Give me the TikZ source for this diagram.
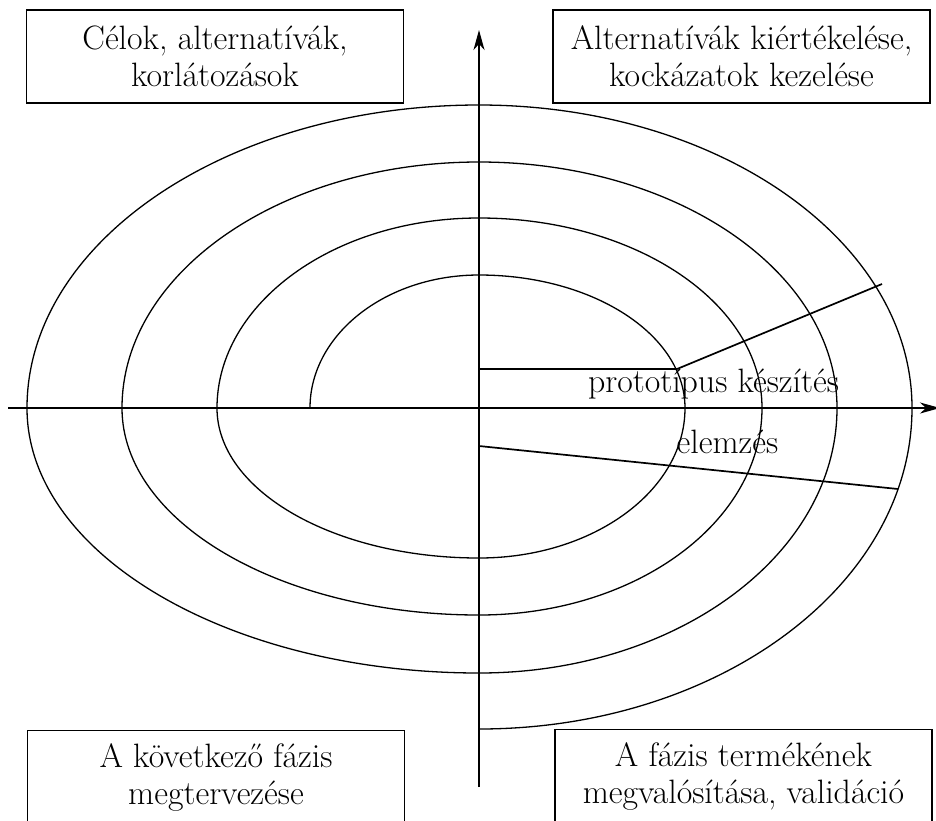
\documentclass[tikz,border=0pt]{standalone}
\usepackage{fontspec}
\usetikzlibrary{arrows.meta}
\begin{document}
\begin{tikzpicture}[x=1pt,y=-1pt,
  every path/.style={line width=1.3pt},
  phasebox/.style={draw, line width=1.3pt, minimum width=377pt, minimum height=93pt,
    align=center, inner sep=0pt, font=\fontsize{33.8}{37}\selectfont},
  lbl/.style={anchor=base, inner sep=0pt, font=\fontsize{33.8}{37}\selectfont},
  sector/.style={line width=1.7pt},
  axis/.style={line width=1.3pt, -{Stealth[length=20pt,width=11pt,inset=6pt]}}]
\useasboundingbox (0,0) rectangle (936,820);

% axes
\coordinate (xs) at (8,408);
\coordinate (xe) at (940,408);
\coordinate (ys) at (479,787);
\coordinate (ye) at (479,30);
\draw[axis] (xs) -- (xe);
\draw[axis] (ys) -- (ye);

% spiral built from quarter ellipses around the origin
\coordinate (sp0) at (310,408);
\draw (sp0)
  arc[start angle=180,end angle=270,x radius=169,y radius=133]
  arc[start angle=270,end angle=360,x radius=206,y radius=133]
  arc[start angle=0,end angle=90,x radius=206,y radius=150]
  arc[start angle=90,end angle=180,x radius=262,y radius=150]
  arc[start angle=180,end angle=270,x radius=262,y radius=190]
  arc[start angle=270,end angle=360,x radius=283,y radius=190]
  arc[start angle=0,end angle=90,x radius=283,y radius=207]
  arc[start angle=90,end angle=180,x radius=357,y radius=207]
  arc[start angle=180,end angle=270,x radius=357,y radius=246]
  arc[start angle=270,end angle=360,x radius=358,y radius=246]
  arc[start angle=0,end angle=90,x radius=358,y radius=265]
  arc[start angle=90,end angle=180,x radius=452,y radius=265]
  arc[start angle=180,end angle=270,x radius=452,y radius=303]
  arc[start angle=270,end angle=360,x radius=433,y radius=303]
  arc[start angle=0,end angle=90,x radius=433,y radius=321];

% sector boundaries
\coordinate (p1) at (479,369);
\coordinate (p2) at (677,369);
\coordinate (p3) at (882,284);
\coordinate (e1) at (479,446);
\coordinate (e2) at (898,489);
\draw[sector] (p1) -- (p2) -- (p3);
\draw[sector] (e1) -- (e2);

\node[lbl] (proto) at (713.5,392) {prototípus készítés};
\node[lbl] (elem) at (727.5,453) {elemzés};

% quadrant boxes
\node[phasebox] (q1) at (215,56.5) {Célok, alternatívák,\\korlátozások};
\node[phasebox] (q2) at (741.5,56.5) {Alternatívák kiértékelése,\\kockázatok kezelése};
\node[phasebox] (q3) at (216,777) {A következő fázis\\megtervezése};
\node[phasebox] (q4) at (743.5,776) {A fázis termékének\\megvalósítása, validáció};
\end{tikzpicture}
\end{document}
